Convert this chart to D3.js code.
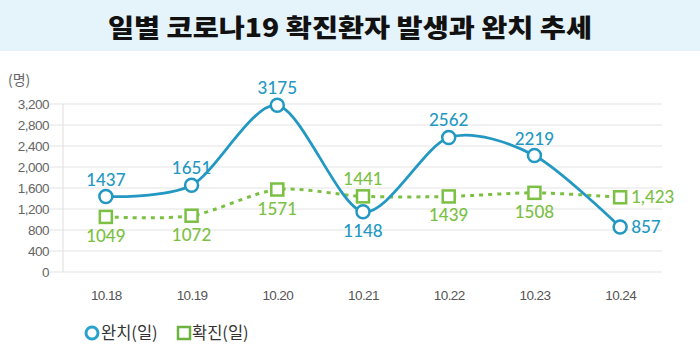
<!DOCTYPE html>
<html><head><meta charset="utf-8">
<script src="https://cdn.jsdelivr.net/npm/d3@7"></script>
<style>body{margin:0;background:#fff}svg{display:block}</style>
</head><body>
<svg id="c" width="700" height="360"></svg>
<script>
const title = "일별 코로나19 확진환자 발생과 완치 추세";
const dates = ["10.18","10.19","10.20","10.21","10.22","10.23","10.24"];
const recovered = [1437,1651,3175,1148,2562,2219,857];
const confirmed = [1049,1072,1571,1441,1439,1508,1423];
const recoveredLabels = ["1437","1651","3175","1148","2562","2219","857"];
const confirmedLabels = ["1049","1072","1571","1441","1439","1508","1,423"];
const yTicks = [0,400,800,1200,1600,2000,2400,2800,3200];
const legendNames = ["완치(일)","확진(일)"];

const blue = "#2298c2", green = "#7bc043";
const svg = d3.select("#c");
const font = "Lato, 'Noto Sans CJK KR', sans-serif";

// title banner
svg.append("rect").attr("x",0).attr("y",0).attr("width",700).attr("height",51).attr("fill","#e5f3fb");
svg.append("text").attr("x",350).attr("y",37).attr("text-anchor","middle")
  .attr("font-family","'Noto Sans CJK KR', sans-serif").attr("font-weight",900)
  .attr("font-size",25).attr("fill","#111")
  .attr("textLength",484).attr("lengthAdjust","spacingAndGlyphs").text(title);

const x = d3.scalePoint().domain(dates).range([63,663]).padding(0.5);
const y = d3.scaleLinear().domain([0,3200]).range([272,104]);

// grid
const g = svg.append("g");
g.selectAll("line.grid").data(yTicks).join("line")
  .attr("x1",50).attr("x2",662).attr("y1",d=>y(d)).attr("y2",d=>y(d))
  .attr("stroke","#e3e3e3").attr("stroke-width",1.2);
g.append("line").attr("x1",63).attr("x2",63).attr("y1",y(3200)).attr("y2",y(0))
  .attr("stroke","#e3e3e3").attr("stroke-width",1.2);

// y axis labels
const yAxis = d3.axisLeft(y).tickValues(yTicks).tickFormat(d3.format(",")).tickSize(0).tickPadding(0);
const ya = svg.append("g").attr("transform","translate(49,0)").call(yAxis);
ya.select(".domain").remove();
ya.selectAll("text").attr("font-family","'Liberation Sans', Arial, sans-serif").attr("font-size",13.5)
  .attr("fill","#666").attr("letter-spacing","-0.5px");
svg.append("text").attr("x",8).attr("y",85).attr("font-family","'Noto Sans CJK KR', sans-serif")
  .attr("font-size",14).attr("fill","#666").text("(명)");

// x axis labels
const xAxis = d3.axisBottom(x).tickSize(0).tickPadding(0);
const xa = svg.append("g").attr("transform","translate(0,290)").call(xAxis);
xa.select(".domain").remove();
xa.selectAll("text").attr("font-family","'Liberation Sans', Arial, sans-serif").attr("font-size",13.5)
  .attr("fill","#555").attr("letter-spacing","-0.6px").attr("dy","0.71em");

// lines
const line = d3.line().x((d,i)=>x(dates[i])).y(d=>y(d)).curve(d3.curveCardinal.tension(0.15));
svg.append("path").datum(confirmed).attr("d",line).attr("fill","none")
  .attr("stroke",green).attr("stroke-width",3).attr("stroke-dasharray","4,5");
svg.append("path").datum(recovered).attr("d",line).attr("fill","none")
  .attr("stroke",blue).attr("stroke-width",2.8);

// markers
svg.selectAll("rect.cm").data(confirmed).join("rect")
  .attr("x",(d,i)=>x(dates[i])-6).attr("y",d=>y(d)-6).attr("width",12).attr("height",12)
  .attr("fill","#fff").attr("stroke",green).attr("stroke-width",2.5);
svg.selectAll("circle.rm").data(recovered).join("circle")
  .attr("cx",(d,i)=>x(dates[i])).attr("cy",d=>y(d)).attr("r",6.5)
  .attr("fill","#fff").attr("stroke",blue).attr("stroke-width",2.5);

// labels: position relative to point (above/below/right)
const recPos = ["above","above","above","below","above","above","right"];
const conPos = ["below","below","below","above","below","below","right"];
function addLabels(vals, labels, pos, color){
  svg.selectAll(null).data(vals).join("text")
    .attr("x",(d,i)=> pos[i]==="right" ? x(dates[i])+11 : x(dates[i]))
    .attr("y",(d,i)=> pos[i]==="above" ? y(d)-11 : pos[i]==="below" ? y(d)+25 : y(d)+6)
    .attr("text-anchor",(d,i)=> pos[i]==="right" ? "start" : "middle")
    .attr("font-family",font).attr("font-size",17).attr("font-weight",500).attr("fill",color)
    .text((d,i)=>labels[i]);
}
addLabels(recovered, recoveredLabels, recPos, blue);
addLabels(confirmed, confirmedLabels, conPos, green);

// legend
const lg = svg.append("g");
lg.append("circle").attr("cx",92).attr("cy",333).attr("r",6).attr("fill","#fff").attr("stroke","#2aa3cc").attr("stroke-width",3);
lg.append("text").attr("x",101).attr("y",339).attr("font-family","'Noto Sans CJK KR', sans-serif").attr("font-size",16.5).attr("fill","#333").text(legendNames[0]);
lg.append("rect").attr("x",178).attr("y",327).attr("width",12).attr("height",12).attr("fill","#fff").attr("stroke","#6db33f").attr("stroke-width",2.5);
lg.append("text").attr("x",192).attr("y",339).attr("font-family","'Noto Sans CJK KR', sans-serif").attr("font-size",16.5).attr("fill","#333").text(legendNames[1]);
</script>
</body></html>
